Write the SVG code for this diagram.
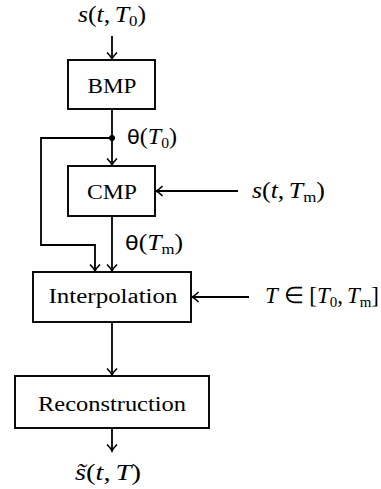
<svg xmlns="http://www.w3.org/2000/svg" width="381" height="489" viewBox="0 0 381 489">
  <style>
    .box { fill: #fff; stroke: #000; stroke-width: 1.9; }
    .wire { fill: none; stroke: #000; stroke-width: 1.8; }
    .lbl { font-family: "Liberation Serif", "Times New Roman", serif; font-size: 20px; fill: #000; }
    .math { font-family: "Liberation Serif", "Times New Roman", serif; font-size: 23px; fill: #000; }
    .it { font-style: italic; }
    .sub { font-size: 15px; }
    .th { font-family: "DejaVu Sans", sans-serif; font-size: 20px; }
  </style>
  <defs>
    <marker id="arr" viewBox="-8 -6 10 12" markerWidth="10" markerHeight="12" refX="0" refY="0" orient="auto" markerUnits="userSpaceOnUse">
      <path d="M-6,-4.5 Q-2.5,-1 0,0 Q-2.5,1 -6,4.5" fill="none" stroke="#000" stroke-width="1.7" stroke-linecap="round"/>
    </marker>
  </defs>

  <g id="connectors">
    <line class="wire" x1="112" y1="36" x2="112" y2="59" marker-end="url(#arr)"/>
    <line class="wire" x1="112" y1="109" x2="112" y2="165" marker-end="url(#arr)"/>
    <circle cx="112" cy="138" r="3" fill="#000"/>
    <polyline class="wire" points="112,138 41,138 41,245 95,245 95,271" marker-end="url(#arr)"/>
    <line class="wire" x1="238" y1="191" x2="156" y2="191" marker-end="url(#arr)"/>
    <line class="wire" x1="112" y1="216" x2="112" y2="271" marker-end="url(#arr)"/>
    <line class="wire" x1="249" y1="297" x2="192" y2="297" marker-end="url(#arr)"/>
    <line class="wire" x1="112" y1="322" x2="112" y2="375" marker-end="url(#arr)"/>
    <line class="wire" x1="112" y1="428" x2="112" y2="451" marker-end="url(#arr)"/>
  </g>

  <g id="input-s0">
    <text class="math" x="78" y="22" textLength="68" lengthAdjust="spacingAndGlyphs"><tspan class="it">s</tspan>(<tspan class="it">t</tspan>,<tspan class="it" dx="4">T</tspan><tspan class="sub" dy="4">0</tspan><tspan dy="-4">)</tspan></text>
  </g>

  <g id="bmp">
    <rect class="box" x="68" y="60" width="87" height="49"/>
    <text class="lbl" x="112" y="93" text-anchor="middle" textLength="49" lengthAdjust="spacingAndGlyphs">BMP</text>
  </g>

  <g id="theta-0">
    <text class="math" x="127" y="144" textLength="50" lengthAdjust="spacingAndGlyphs"><tspan class="th">θ</tspan>(<tspan class="it">T</tspan><tspan class="sub" dy="4">0</tspan><tspan dy="-4">)</tspan></text>
  </g>

  <g id="cmp">
    <rect class="box" x="68" y="166" width="87" height="50"/>
    <text class="lbl" x="112" y="199" text-anchor="middle" textLength="50" lengthAdjust="spacingAndGlyphs">CMP</text>
  </g>

  <g id="input-sm">
    <text class="math" x="252" y="198" textLength="73" lengthAdjust="spacingAndGlyphs"><tspan class="it">s</tspan>(<tspan class="it">t</tspan>,<tspan class="it" dx="4">T</tspan><tspan class="sub" dy="4">m</tspan><tspan dy="-4">)</tspan></text>
  </g>

  <g id="theta-m">
    <text class="math" x="125" y="250" textLength="58" lengthAdjust="spacingAndGlyphs"><tspan class="th">θ</tspan>(<tspan class="it">T</tspan><tspan class="sub" dy="4">m</tspan><tspan dy="-4">)</tspan></text>
  </g>

  <g id="interpolation">
    <rect class="box" x="33" y="272" width="158" height="50"/>
    <text class="lbl" x="113" y="303" text-anchor="middle" textLength="129" lengthAdjust="spacingAndGlyphs">Interpolation</text>
  </g>

  <g id="input-t">
    <text class="math" x="265" y="303" textLength="114" lengthAdjust="spacingAndGlyphs"><tspan class="it">T</tspan> ∈ [<tspan class="it">T</tspan><tspan class="sub" dy="4">0</tspan><tspan dy="-4">,</tspan><tspan class="it" dx="4">T</tspan><tspan class="sub" dy="4">m</tspan><tspan dy="-4">]</tspan></text>
  </g>

  <g id="reconstruction">
    <rect class="box" x="15" y="376" width="194" height="52"/>
    <text class="lbl" x="112" y="411" text-anchor="middle" textLength="148" lengthAdjust="spacingAndGlyphs">Reconstruction</text>
  </g>

  <g id="output">
    <text class="math" x="75" y="480" textLength="66" lengthAdjust="spacingAndGlyphs"><tspan class="it">s̃</tspan>(<tspan class="it">t</tspan>,<tspan class="it" dx="4">T</tspan>)</text>
  </g>
</svg>
